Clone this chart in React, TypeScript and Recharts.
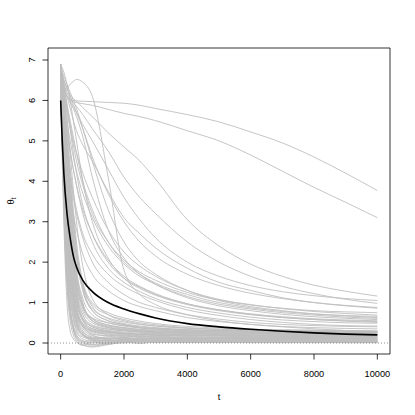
import React from 'react';
import { LineChart, Line, XAxis, YAxis, ReferenceLine, ReferenceArea } from 'recharts';

// time grid (t)
const times = [0, 50, 100, 200, 300, 400, 500, 700, 1000, 1500, 2000, 2500, 3000, 4000, 5000, 6000, 7000, 8000, 9000, 10000];

// black (mean) trajectory
const meanPath = [6.0, 5.0, 4.2, 3.2, 2.6, 2.15, 1.88, 1.55, 1.27, 1.0, 0.84, 0.72, 0.62, 0.48, 0.4, 0.34, 0.29, 0.25, 0.22, 0.2];

// slowest grey trajectories (top right)
const slowPaths = [
  [6.6, 6.45, 6.3, 6.1, 6.03, 6.0, 5.99, 5.98, 5.97, 5.95, 5.93, 5.88, 5.8, 5.65, 5.47, 5.22, 4.95, 4.6, 4.2, 3.77],
  [6.5, 6.4, 6.25, 6.1, 6.0, 5.97, 5.95, 5.92, 5.88, 5.78, 5.68, 5.6, 5.5, 5.25, 5.0, 4.65, 4.25, 3.85, 3.48, 3.1],
];

// trajectory with the early bump
const bumpPath = [6.1, 6.15, 6.2, 6.3, 6.4, 6.47, 6.52, 6.45, 6.1, 4.1, 1.8, 1.2, 0.95, 0.7, 0.55, 0.46, 0.4, 0.35, 0.31, 0.28];

// intermediate grey trajectories
const midPaths = [
  [6.7, 6.6, 6.5, 6.3, 6.15, 6.05, 5.98, 5.82, 5.6, 5.2, 4.85, 4.5, 4.05, 3.05, 2.4, 1.95, 1.65, 1.43, 1.28, 1.16],
  [6.8, 6.65, 6.5, 6.3, 6.1, 5.95, 5.85, 5.65, 5.3, 4.75, 4.1, 3.6, 3.2, 2.5, 2.0, 1.65, 1.4, 1.22, 1.08, 0.98],
  [6.7, 6.55, 6.4, 6.1, 5.8, 5.5, 5.25, 4.9, 4.5, 3.75, 3.1, 2.7, 2.35, 1.85, 1.5, 1.3, 1.12, 1.0, 0.92, 0.86],
  [6.6, 6.4, 6.2, 5.8, 5.4, 5.0, 4.7, 4.2, 3.6, 2.8, 2.25, 1.9, 1.65, 1.3, 1.08, 0.95, 0.85, 0.78, 0.73, 0.69],
  [6.5, 6.25, 6.0, 5.5, 5.0, 4.6, 4.25, 3.7, 3.1, 2.4, 1.95, 1.65, 1.45, 1.15, 0.96, 0.84, 0.75, 0.69, 0.64, 0.61],
  [6.4, 6.1, 5.8, 5.2, 4.7, 4.3, 3.9, 3.3, 2.7, 2.05, 1.65, 1.4, 1.22, 0.97, 0.82, 0.71, 0.63, 0.58, 0.55, 0.53],
  [6.6, 6.25, 5.9, 5.3, 4.8, 4.3, 3.9, 3.2, 2.5, 1.85, 1.5, 1.27, 1.1, 0.88, 0.74, 0.64, 0.57, 0.53, 0.5, 0.49],
  [6.3, 5.9, 5.5, 4.8, 4.1, 3.6, 3.2, 2.6, 2.0, 1.5, 1.2, 1.0, 0.88, 0.7, 0.59, 0.51, 0.46, 0.43, 0.41, 0.4],
  [6.8, 6.7, 6.6, 6.4, 6.2, 6.0, 5.8, 5.3, 4.5, 3.3, 2.5, 2.0, 1.7, 1.3, 1.05, 0.9, 0.8, 0.72, 0.67, 0.63],
  [6.5, 6.4, 6.3, 6.1, 5.95, 5.8, 5.6, 5.1, 4.1, 2.8, 2.1, 1.7, 1.45, 1.12, 0.92, 0.8, 0.71, 0.65, 0.61, 0.58],
  [6.9, 6.8, 6.7, 6.4, 6.0, 5.5, 5.0, 4.0, 3.0, 2.1, 1.6, 1.35, 1.18, 0.95, 0.8, 0.7, 0.63, 0.58, 0.54, 0.51],
  [6.6, 6.5, 6.4, 6.2, 6.0, 5.85, 5.7, 5.4, 5.0, 4.3, 3.6, 3.05, 2.6, 2.0, 1.65, 1.42, 1.27, 1.17, 1.1, 1.05],
  [6.7, 6.6, 6.5, 6.3, 6.1, 5.9, 5.7, 5.3, 4.6, 3.7, 3.0, 2.5, 2.15, 1.7, 1.42, 1.23, 1.1, 1.0, 0.93, 0.88],
  [6.5, 6.3, 6.1, 5.7, 5.3, 4.9, 4.5, 3.9, 3.2, 2.5, 2.05, 1.75, 1.55, 1.25, 1.06, 0.94, 0.86, 0.8, 0.77, 0.75],
  [6.4, 6.0, 5.5, 4.6, 3.8, 3.2, 2.8, 2.2, 1.7, 1.3, 1.05, 0.9, 0.8, 0.63, 0.53, 0.46, 0.41, 0.38, 0.36, 0.35],
  [6.7, 6.3, 5.9, 5.0, 4.3, 3.7, 3.3, 2.7, 2.2, 1.7, 1.4, 1.2, 1.05, 0.82, 0.68, 0.58, 0.51, 0.46, 0.43, 0.42],
  [6.6, 6.5, 6.3, 5.9, 5.5, 5.1, 4.7, 4.0, 3.3, 2.5, 2.0, 1.7, 1.48, 1.2, 1.0, 0.87, 0.78, 0.72, 0.68, 0.66],
  [6.8, 6.6, 6.4, 5.9, 5.3, 4.7, 4.2, 3.4, 2.7, 2.0, 1.6, 1.38, 1.2, 0.97, 0.82, 0.72, 0.65, 0.6, 0.57, 0.55],
];

// lower-intermediate grey trajectories (just under the black line)
const lowMidPaths = [
  [6.5, 6.1, 5.6, 4.5, 3.5, 2.7, 2.1, 1.4, 0.95, 0.7, 0.58, 0.5, 0.45, 0.38, 0.34, 0.32, 0.31, 0.3, 0.29, 0.29],
  [6.8, 6.5, 6.1, 5.0, 3.9, 3.0, 2.3, 1.5, 1.0, 0.75, 0.62, 0.54, 0.48, 0.41, 0.37, 0.34, 0.33, 0.32, 0.31, 0.3],
  [6.6, 6.3, 5.9, 4.8, 3.7, 2.8, 2.1, 1.3, 0.85, 0.62, 0.52, 0.46, 0.42, 0.37, 0.34, 0.32, 0.31, 0.3, 0.3, 0.29],
];

// fast-converging grey trajectories (dense band near zero)
const fastPaths = [
  [6.8, 5.0, 3.4, 1.5, 0.7, 0.4, 0.25, 0.15, 0.1, 0.12, 0.08, 0.1, 0.07, 0.09, 0.06, 0.08, 0.07, 0.06, 0.08, 0.07],
  [6.5, 6.0, 5.3, 3.4, 2.2, 1.3, 0.8, 0.4, 0.25, 0.18, 0.2, 0.14, 0.16, 0.12, 0.13, 0.11, 0.12, 0.1, 0.11, 0.1],
  [6.9, 6.5, 6.0, 4.8, 3.6, 2.6, 1.8, 1.0, 0.55, 0.38, 0.32, 0.28, 0.26, 0.23, 0.21, 0.2, 0.19, 0.18, 0.18, 0.17],
  [6.2, 4.5, 3.0, 1.0, 0.3, 0.1, 0.02, -0.06, -0.08, 0.0, 0.04, 0.02, 0.05, 0.03, 0.04, 0.02, 0.04, 0.03, 0.03, 0.03],
  [6.7, 6.3, 5.8, 4.5, 3.2, 2.2, 1.5, 0.9, 0.6, 0.45, 0.38, 0.33, 0.3, 0.27, 0.25, 0.24, 0.23, 0.22, 0.22, 0.21],
  [6.6, 5.6, 4.4, 2.4, 1.3, 0.7, 0.4, 0.2, 0.08, 0.02, 0.06, 0.09, 0.05, 0.07, 0.05, 0.06, 0.05, 0.05, 0.05, 0.04],
  [6.4, 6.0, 5.5, 4.0, 2.8, 1.9, 1.2, 0.6, 0.35, 0.28, 0.22, 0.25, 0.2, 0.18, 0.17, 0.15, 0.15, 0.14, 0.14, 0.13],
  [6.9, 6.6, 6.2, 5.3, 4.3, 3.3, 2.5, 1.5, 0.9, 0.6, 0.48, 0.42, 0.38, 0.33, 0.3, 0.28, 0.27, 0.26, 0.25, 0.25],
  [6.3, 5.0, 3.8, 1.8, 0.8, 0.35, 0.15, 0.0, -0.05, -0.03, 0.02, 0.05, 0.02, 0.04, 0.02, 0.03, 0.02, 0.02, 0.02, 0.02],
  [6.7, 6.2, 5.6, 4.2, 3.0, 2.0, 1.3, 0.7, 0.4, 0.3, 0.25, 0.21, 0.24, 0.19, 0.2, 0.18, 0.17, 0.17, 0.16, 0.16],
  [6.5, 5.8, 5.0, 3.4, 2.2, 1.4, 0.9, 0.45, 0.2, 0.1, 0.14, 0.1, 0.12, 0.09, 0.1, 0.09, 0.08, 0.09, 0.08, 0.08],
  [6.8, 6.4, 5.9, 4.6, 3.4, 2.5, 1.8, 1.1, 0.7, 0.5, 0.42, 0.37, 0.34, 0.3, 0.28, 0.27, 0.26, 0.25, 0.24, 0.24],
  [6.1, 5.3, 4.3, 2.6, 1.5, 0.85, 0.5, 0.2, 0.05, -0.02, 0.03, 0.0, 0.04, 0.02, 0.03, 0.01, 0.02, 0.01, 0.02, 0.01],
  [6.6, 6.1, 5.4, 3.8, 2.6, 1.7, 1.1, 0.55, 0.3, 0.2, 0.16, 0.19, 0.14, 0.15, 0.13, 0.14, 0.12, 0.12, 0.12, 0.12],
  [6.9, 6.7, 6.4, 5.6, 4.7, 3.8, 3.0, 1.9, 1.1, 0.7, 0.55, 0.47, 0.42, 0.36, 0.33, 0.31, 0.3, 0.29, 0.28, 0.28],
  [6.4, 5.2, 4.0, 2.0, 0.9, 0.4, 0.1, -0.04, -0.1, -0.04, 0.02, -0.01, 0.03, 0.01, 0.02, 0.01, 0.01, 0.01, 0.01, 0.01],
  [6.7, 6.3, 5.7, 4.4, 3.2, 2.3, 1.6, 0.95, 0.55, 0.4, 0.34, 0.3, 0.28, 0.25, 0.23, 0.22, 0.21, 0.2, 0.2, 0.19],
  [6.0, 5.2, 4.5, 3.0, 2.0, 1.3, 0.85, 0.45, 0.28, 0.22, 0.18, 0.15, 0.17, 0.13, 0.12, 0.13, 0.11, 0.11, 0.11, 0.1],
  [6.8, 6.5, 6.0, 5.0, 4.0, 3.1, 2.3, 1.4, 0.8, 0.55, 0.45, 0.38, 0.35, 0.31, 0.29, 0.28, 0.27, 0.26, 0.26, 0.26],
  [6.5, 5.5, 4.5, 2.9, 1.8, 1.1, 0.65, 0.3, 0.12, 0.06, 0.09, 0.06, 0.08, 0.06, 0.07, 0.06, 0.06, 0.06, 0.05, 0.05],
  [6.6, 5.4, 4.1, 2.1, 1.1, 0.6, 0.35, 0.18, 0.12, 0.15, 0.1, 0.13, 0.11, 0.1, 0.12, 0.1, 0.11, 0.1, 0.09, 0.1],
  [6.9, 6.2, 5.2, 3.3, 2.0, 1.2, 0.75, 0.42, 0.3, 0.26, 0.22, 0.2, 0.22, 0.19, 0.18, 0.19, 0.17, 0.18, 0.17, 0.17],
  [6.3, 4.8, 3.3, 1.4, 0.55, 0.2, 0.05, -0.05, 0.02, 0.06, 0.03, 0.05, 0.04, 0.06, 0.04, 0.05, 0.04, 0.05, 0.04, 0.04],
  [6.7, 6.1, 5.3, 3.6, 2.4, 1.6, 1.05, 0.6, 0.42, 0.34, 0.3, 0.27, 0.25, 0.24, 0.22, 0.23, 0.21, 0.22, 0.21, 0.21],
  [6.5, 5.7, 4.7, 2.8, 1.6, 0.9, 0.5, 0.22, 0.1, 0.05, 0.08, 0.04, 0.07, 0.05, 0.06, 0.05, 0.06, 0.05, 0.05, 0.05],
  [6.8, 6.4, 5.8, 4.3, 3.0, 2.1, 1.45, 0.85, 0.55, 0.42, 0.36, 0.32, 0.3, 0.28, 0.27, 0.26, 0.25, 0.25, 0.24, 0.24],
  [6.2, 5.0, 3.7, 1.9, 0.9, 0.45, 0.2, 0.06, 0.0, 0.03, 0.07, 0.04, 0.06, 0.03, 0.05, 0.04, 0.03, 0.04, 0.03, 0.03],
  [6.6, 5.9, 5.0, 3.2, 2.0, 1.25, 0.8, 0.4, 0.22, 0.17, 0.14, 0.16, 0.13, 0.14, 0.12, 0.13, 0.12, 0.12, 0.11, 0.12],
  [6.9, 6.5, 6.0, 4.7, 3.5, 2.5, 1.7, 0.95, 0.6, 0.44, 0.38, 0.34, 0.32, 0.29, 0.28, 0.27, 0.27, 0.26, 0.26, 0.26],
  [6.4, 5.4, 4.3, 2.5, 1.4, 0.8, 0.45, 0.2, 0.12, 0.09, 0.12, 0.08, 0.1, 0.09, 0.08, 0.09, 0.08, 0.08, 0.08, 0.07],
  [6.7, 6.0, 5.1, 3.3, 2.1, 1.3, 0.85, 0.48, 0.33, 0.27, 0.23, 0.21, 0.19, 0.18, 0.18, 0.17, 0.16, 0.16, 0.16, 0.15],
  [6.5, 5.1, 3.7, 1.7, 0.8, 0.38, 0.18, 0.04, -0.04, 0.01, 0.0, 0.03, 0.01, 0.02, 0.01, 0.02, 0.01, 0.02, 0.01, 0.01],
  [6.8, 6.3, 5.6, 4.0, 2.7, 1.8, 1.2, 0.68, 0.45, 0.35, 0.3, 0.28, 0.26, 0.24, 0.23, 0.22, 0.22, 0.21, 0.2, 0.2],
  [6.3, 5.6, 4.8, 3.1, 1.9, 1.15, 0.7, 0.35, 0.18, 0.12, 0.1, 0.12, 0.09, 0.11, 0.09, 0.1, 0.09, 0.09, 0.09, 0.09],
  [6.6, 6.2, 5.6, 4.2, 3.0, 2.1, 1.5, 0.9, 0.62, 0.5, 0.43, 0.38, 0.35, 0.32, 0.3, 0.29, 0.28, 0.28, 0.27, 0.27],
  [6.4, 4.9, 3.5, 1.6, 0.7, 0.3, 0.12, 0.03, 0.06, 0.04, 0.05, 0.07, 0.05, 0.06, 0.05, 0.06, 0.05, 0.05, 0.05, 0.05],
  [6.7, 6.0, 5.2, 3.5, 2.3, 1.5, 1.0, 0.55, 0.36, 0.28, 0.24, 0.22, 0.2, 0.19, 0.18, 0.18, 0.17, 0.17, 0.17, 0.16],
  [6.9, 6.4, 5.7, 4.1, 2.9, 2.0, 1.35, 0.78, 0.5, 0.38, 0.33, 0.3, 0.28, 0.26, 0.25, 0.24, 0.24, 0.23, 0.23, 0.23],
  [6.5, 5.8, 4.9, 3.0, 1.8, 1.05, 0.6, 0.28, 0.15, 0.1, 0.13, 0.1, 0.12, 0.1, 0.11, 0.1, 0.1, 0.1, 0.1, 0.09],
  [6.2, 5.5, 4.7, 3.1, 2.0, 1.3, 0.85, 0.47, 0.3, 0.24, 0.2, 0.17, 0.19, 0.16, 0.15, 0.16, 0.14, 0.14, 0.14, 0.14],
  [6.8, 5.9, 4.9, 2.9, 1.7, 1.0, 0.55, 0.25, 0.08, -0.02, 0.02, 0.05, 0.02, 0.03, 0.02, 0.03, 0.02, 0.03, 0.02, 0.02],
  [6.6, 6.3, 5.9, 4.9, 3.9, 3.0, 2.2, 1.3, 0.8, 0.55, 0.46, 0.4, 0.37, 0.33, 0.31, 0.3, 0.29, 0.28, 0.28, 0.28],
  [6.4, 5.9, 5.3, 3.8, 2.6, 1.7, 1.1, 0.6, 0.4, 0.31, 0.27, 0.24, 0.22, 0.21, 0.2, 0.19, 0.19, 0.19, 0.18, 0.18],
  [6.7, 5.7, 4.5, 2.4, 1.2, 0.6, 0.3, 0.1, 0.04, 0.08, 0.05, 0.07, 0.06, 0.07, 0.06, 0.07, 0.06, 0.06, 0.06, 0.06],
];

const xTicks = [0, 2000, 4000, 6000, 8000, 10000];
const yTicks = [0, 1, 2, 3, 4, 5, 6, 7];
const xDomain: [number, number] = [-400, 10400];
const yDomain: [number, number] = [-0.272, 7.297];

const greyPaths = [...slowPaths, bumpPath, ...midPaths, ...lowMidPaths, ...fastPaths];

const data = times.map((t, i) => {
  const row: Record<string, number> = { t, mean: meanPath[i] };
  greyPaths.forEach((p, j) => {
    row['g' + j] = p[i];
  });
  return row;
});

const FONT = '"Liberation Sans", Arial, Helvetica, sans-serif';
const FS = 9.2;

const XTick = (props: any) => {
  const { x, payload } = props;
  return (
    <text x={x} y={376.5} textAnchor="middle" fontSize={FS} fontFamily={FONT} fill="#000">
      {payload.value}
    </text>
  );
};

const YTick = (props: any) => {
  const { y, payload } = props;
  const bx = 35;
  return (
    <text x={bx} y={y} transform={`rotate(-90, ${bx}, ${y})`} textAnchor="middle" fontSize={FS} fontFamily={FONT} fill="#000">
      {payload.value}
    </text>
  );
};

const XTitle = (props: any) => {
  const vb = props.viewBox || { x: 48, width: 342 };
  const cx = vb.x + vb.width / 2;
  return (
    <text x={cx} y={400} textAnchor="middle" fontSize={FS} fontFamily={FONT} fill="#000">
      t
    </text>
  );
};

const YTitle = (props: any) => {
  const vb = props.viewBox || { y: 48, height: 306 };
  const cy = vb.y + vb.height / 2;
  const bx = 13.5;
  return (
    <text x={bx} y={cy} transform={`rotate(-90, ${bx}, ${cy})`} textAnchor="middle" fontSize={FS} fontFamily={FONT} fill="#000">
      <tspan>θ</tspan>
      <tspan fontSize={FS * 0.7} dy={2}>t</tspan>
    </text>
  );
};

export default function App() {
  return (
    <div style={{ position: 'absolute', left: 0, top: 0, width: 415, height: 415, background: '#fff' }}>
      <LineChart width={415} height={415} data={data} margin={{ top: 48, right: 25, bottom: 0, left: 0 }}>
        <XAxis
          type="number"
          dataKey="t"
          domain={xDomain}
          ticks={xTicks}
          allowDataOverflow
          axisLine={false}
          tickLine={{ stroke: '#000', strokeWidth: 0.8 }}
          tickSize={5.5}
          tick={<XTick />}
          height={61}
          label={<XTitle />}
        />
        <YAxis
          type="number"
          domain={yDomain}
          ticks={yTicks}
          allowDataOverflow
          axisLine={false}
          tickLine={{ stroke: '#000', strokeWidth: 0.8 }}
          tickSize={5.5}
          tick={<YTick />}
          width={48}
          label={<YTitle />}
        />
        {greyPaths.map((_, j) => (
          <Line
            key={'g' + j}
            type="monotone"
            dataKey={'g' + j}
            stroke="#bebebe"
            strokeWidth={0.9}
            dot={false}
            isAnimationActive={false}
          />
        ))}
        <ReferenceLine y={0} stroke="#777" strokeWidth={0.8} strokeDasharray="1 2" ifOverflow="visible" />
        <Line type="monotone" dataKey="mean" stroke="#000" strokeWidth={1.6} dot={false} isAnimationActive={false} />
        <ReferenceArea
          x1={xDomain[0]}
          x2={xDomain[1]}
          y1={yDomain[0]}
          y2={yDomain[1]}
          fill="none"
          fillOpacity={0}
          stroke="#000"
          strokeWidth={0.8}
          ifOverflow="visible"
        />
      </LineChart>
    </div>
  );
}
